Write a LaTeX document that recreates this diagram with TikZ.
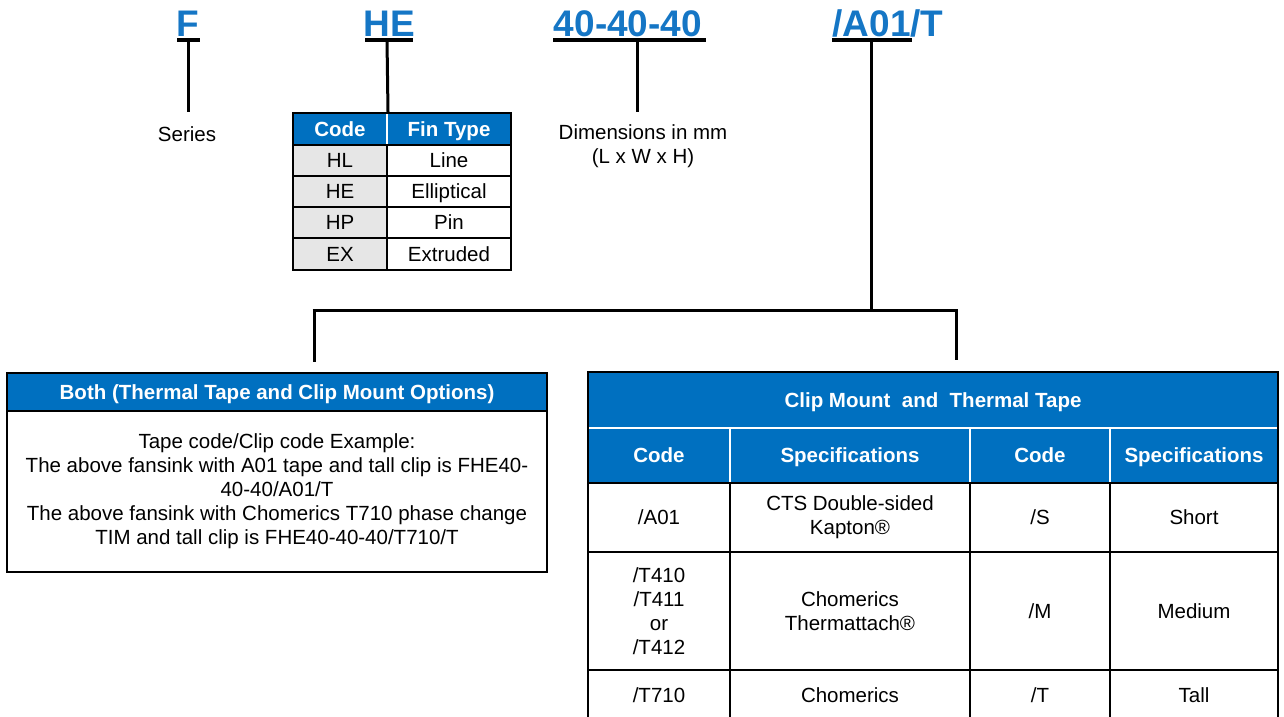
\documentclass[tikz,border=0pt]{standalone}
\usepackage{fontspec}
\setmainfont{Liberation Sans}
\definecolor{hdrblue}{HTML}{0070C0}
\definecolor{codeblue}{HTML}{1576C5}
\definecolor{cellgray}{HTML}{E6E6E6}
\begin{document}
\begin{tikzpicture}[x=1pt,y=-1pt,
  txt/.style={font=\fontsize{20.5}{24}\selectfont, inner sep=0pt},
  codetxt/.style={font=\fontsize{37}{40}\selectfont\bfseries, text=codeblue, inner sep=0pt, anchor=base},
  under/.style={line width=3.5pt},
  conn/.style={line width=3pt},
  one/.style={text height=14.7pt, text depth=0pt},
  cell/.style={txt, draw=black, line width=2pt, fill=white, align=center},
  gcell/.style={cell, fill=cellgray},
  hcell/.style={txt, font=\fontsize{20.5}{24}\selectfont\bfseries, text=white, fill=hdrblue, draw=white, line width=2pt, align=center, one},
]
\clip (0,0) rectangle (1284,716);
\useasboundingbox (0,0) rectangle (1284,716);

% top codes
\node[codetxt] (cF) at (188,36) {F};
\node[codetxt] (cHE) at (389,36) {HE};
\node[codetxt] (cDim) at (628,36) {40-40-40};
\node[codetxt] (cOpt) at (888,36) {/A01/T};

% underlines and junctions
\coordinate (jF) at (188,40);
\coordinate (jHE) at (387,40);
\coordinate (jDim) at (637,40);
\coordinate (jOpt) at (871,40);
\draw[under] (177,40) -- (200,40);
\draw[under] (365,40) -- (413,40);
\draw[under] (553,40) -- (706,40);
\draw[under] (832,40) -- (912,40);

% labels
\node[txt, anchor=base] (series) at (187,141) {Series};
\node[txt, anchor=base] (dim1) at (643,139) {Dimensions in mm};
\node[txt, anchor=base] (dim2) at (643,163) {(L x W x H)};

% fin table
\node[hcell, minimum width=94pt, minimum height=32pt] (fhc) at (340,129) {Code};
\node[hcell, minimum width=124pt, minimum height=32pt] (fht) at (449,129) {Fin Type};
\draw[line width=2pt] (293,113) rectangle (511,145);
\node[gcell, one, minimum width=94pt, minimum height=31pt] (f1c) at (340,160.5) {HL};
\node[cell, one, minimum width=124pt, minimum height=31pt] (f1t) at (449,160.5) {Line};
\node[gcell, one, minimum width=94pt, minimum height=31pt] (f2c) at (340,191.5) {HE};
\node[cell, one, minimum width=124pt, minimum height=31pt] (f2t) at (449,191.5) {Elliptical};
\node[gcell, one, minimum width=94pt, minimum height=31pt] (f3c) at (340,222.5) {HP};
\node[cell, one, minimum width=124pt, minimum height=31pt] (f3t) at (449,222.5) {Pin};
\node[gcell, one, minimum width=94pt, minimum height=32pt] (f4c) at (340,254) {EX};
\node[cell, one, minimum width=124pt, minimum height=32pt] (f4t) at (449,254) {Extruded};

% connectors
\coordinate (eF) at (188,112);
\coordinate (eDim) at (637,112);
\coordinate (bar) at (871,310);
\coordinate (barL) at (314,310);
\coordinate (barR) at (956,310);
\coordinate (dL) at (314,362);
\coordinate (dR) at (956,360);
\draw[conn] (jF) -- (eF);
\draw[conn] (jHE) -- (fhc.north east);
\draw[conn] (jDim) -- (eDim);
\draw[conn] (jOpt) -- (bar);
\draw[conn] (312.5,310) -- (957.5,310);
\draw[conn] (barL) -- (dL);
\draw[conn] (barR) -- (dR);

% left box
\node[hcell, draw=black, minimum width=540pt, minimum height=38pt] (bh) at (277,392) {Both (Thermal Tape and Clip Mount Options)};
\node[cell, minimum width=540pt, minimum height=161pt] (bb) at (277,491.5) {Tape code/Clip code Example:\\The above fansink with A01 tape and tall clip is FHE40-\\40-40/A01/T\\The above fansink with Chomerics T710 phase change\\TIM and tall clip is FHE40-40-40/T710/T};
\draw[line width=2pt] (7,373) rectangle (547,411);

% right table
\node[hcell, draw=none, minimum width=690pt, minimum height=56pt] (rt) at (933,400) {Clip Mount\ \ and\ \ Thermal Tape};
\draw[white, line width=2pt] (588,428) -- (1278,428);
\node[hcell, minimum width=142pt, minimum height=55pt] (rh1) at (659,455.5) {Code};
\node[hcell, minimum width=240pt, minimum height=55pt] (rh2) at (850,455.5) {Specifications};
\node[hcell, minimum width=140pt, minimum height=55pt] (rh3) at (1040,455.5) {Code};
\node[hcell, minimum width=168pt, minimum height=55pt] (rh4) at (1194,455.5) {Specifications};

\node[cell, one, minimum width=142pt, minimum height=69pt] (r1a) at (659,517.5) {/A01};
\node[cell, minimum width=240pt, minimum height=69pt] (r1b) at (850,517.5) {CTS Double-sided\\Kapton®};
\node[cell, one, minimum width=140pt, minimum height=69pt] (r1c) at (1040,517.5) {/S};
\node[cell, one, minimum width=168pt, minimum height=69pt] (r1d) at (1194,517.5) {Short};

\node[cell, minimum width=142pt, minimum height=118pt] (r2a) at (659,611) {/T410\\/T411\\or\\/T412};
\node[cell, minimum width=240pt, minimum height=118pt] (r2b) at (850,611) {Chomerics\\Thermattach®};
\node[cell, one, minimum width=140pt, minimum height=118pt] (r2c) at (1040,611) {/M};
\node[cell, one, minimum width=168pt, minimum height=118pt] (r2d) at (1194,611) {Medium};

\node[cell, minimum width=142pt, minimum height=60pt] (r3a) at (659,700) {};
\node[cell, minimum width=240pt, minimum height=60pt] (r3b) at (850,700) {};
\node[cell, minimum width=140pt, minimum height=60pt] (r3c) at (1040,700) {};
\node[cell, minimum width=168pt, minimum height=60pt] (r3d) at (1194,700) {};
\node[txt, one] (t3a) at (659,695) {/T710};
\node[txt, one] (t3b) at (850,695) {Chomerics};
\node[txt, one] (t3c) at (1040,695) {/T};
\node[txt, one] (t3d) at (1194,695) {Tall};

\draw[line width=2pt] (588,740) -- (588,372) -- (1278,372) -- (1278,740);
\draw[line width=2pt] (588,483) -- (1278,483);
\end{tikzpicture}
\end{document}
